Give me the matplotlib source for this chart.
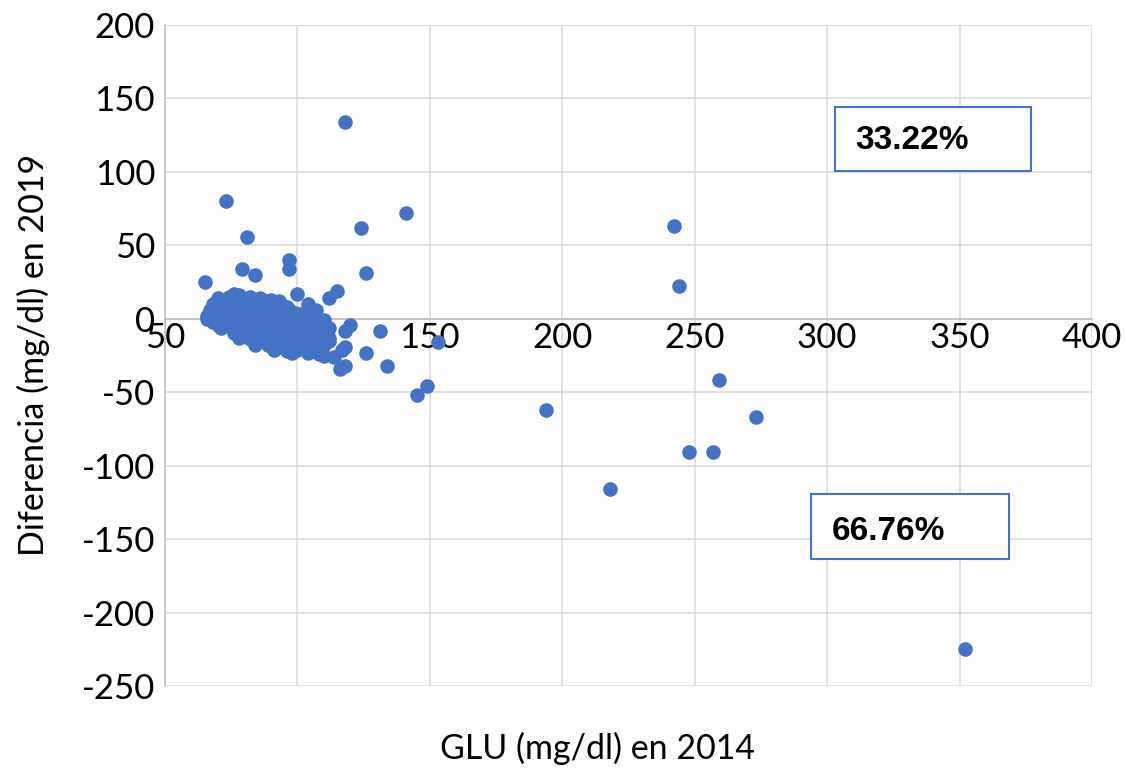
import matplotlib
matplotlib.use("Agg")
import matplotlib.pyplot as plt

# Outliers (GLU 2014, difference 2019)
out_x = [118, 73, 81, 141, 124, 126, 242, 244, 97, 97, 79, 84, 65, 115, 112, 100, 104,
         120, 118, 131, 153, 126, 134, 118, 116, 117, 145, 149, 194, 218, 248, 257, 259,
         273, 352, 66, 107, 112, 114, 118]
out_y = [134, 80, 56, 72, 62, 31, 63, 22, 40, 34, 34, 30, 25, 19, 14, 17, 10,
         -4, -8, -8, -16, -23, -32, -32, -34, -21, -52, -46, -62, -116, -91, -91, -42,
         -67, -225, 0, 6, -15, -26, -19]

# Dense cluster around 65-115 mg/dl
clu_x = [70, 74, 78, 82, 86, 90, 76, 88, 80, 93,
         68, 72, 76, 80, 84, 88, 92, 96, 70, 82, 94, 74, 86,
         67, 71, 75, 79, 83, 87, 91, 95, 99, 103, 107, 73, 85, 97, 69, 81, 93,
         66, 70, 74, 78, 82, 86, 90, 94, 98, 102, 106, 110, 77, 89, 101, 72, 84, 96,
         68, 72, 76, 80, 84, 88, 92, 96, 100, 104, 108, 112, 74, 86, 98, 70, 90, 102,
         71, 75, 79, 83, 87, 91, 95, 99, 103, 107, 111, 81, 93, 105, 77, 89, 101,
         76, 80, 84, 88, 92, 96, 100, 104, 108, 112, 86, 98, 78, 90, 106,
         82, 86, 90, 94, 98, 102, 106, 110, 92, 104, 84, 96,
         89, 93, 97, 101, 105, 109, 99, 91, 103,
         96, 100, 104, 108, 110, 98]
clu_y = [14, 15, 16, 15, 14, 13, 17, 12, 12, 12,
         10, 11, 10, 11, 10, 10, 9, 8, 8, 12, 6, 13, 12,
         6, 7, 6, 5, 7, 6, 5, 5, 4, 3, 2, 4, 4, 6, 4, 8, 8,
         2, 2, 3, 1, 2, 3, 1, 2, 1, 0, 0, -1, 4, 0, 3, 5, 5, 3,
         -2, -1, -3, -2, -3, -1, -2, -3, -4, -3, -5, -6, 0, 0, -1, -4, -1, -2,
         -6, -5, -7, -6, -7, -6, -8, -7, -8, -9, -10, -4, -5, -6, -9, -9, -10,
         -10, -11, -10, -12, -11, -12, -13, -12, -14, -13, -8, -9, -13, -14, -16,
         -14, -15, -15, -16, -15, -17, -18, -18, -13, -14, -18, -18,
         -18, -19, -20, -19, -21, -22, -17, -21, -20,
         -22, -21, -23, -24, -25, -23]

xticks = [50, 100, 150, 200, 250, 300, 350, 400]
yticks = [-250, -200, -150, -100, -50, 0, 50, 100, 150, 200]
blue = "#4472c4"

plt.rcParams['font.family'] = ['Lato', 'DejaVu Sans']
plt.rcParams['axes.unicode_minus'] = False

fig = plt.figure(figsize=(11.26, 7.70), dpi=100)
ax = fig.add_axes([0.1465, 0.1091, 0.8233, 0.8584])

ax.scatter(clu_x, clu_y, s=110, color=blue, linewidths=0, zorder=3)
ax.scatter(out_x, out_y, s=110, color=blue, linewidths=0, zorder=3)

ax.set_xlim(50, 400)
ax.set_ylim(-250, 200)
ax.set_xticks(xticks)
ax.set_yticks(yticks)
ax.grid(True, color="#d9d9d9", linewidth=1.1, zorder=0)
ax.set_axisbelow(True)

ax.spines['top'].set_visible(False)
ax.spines['right'].set_visible(False)
ax.spines['left'].set_color("#bfbfbf")
ax.spines['left'].set_linewidth(1.1)
ax.spines['bottom'].set_position(('data', 0))
ax.spines['bottom'].set_color("#bfbfbf")
ax.spines['bottom'].set_linewidth(1.1)
ax.tick_params(axis='both', length=0, labelsize=25, colors="black")
ax.tick_params(axis='x', pad=2)
ax.tick_params(axis='y', pad=7)

fig.text(598 / 1126, 1 - 748 / 770, "GLU (mg/dl) en 2014", ha='center', va='center', fontsize=24.5)
fig.text(33 / 1126, 1 - 355 / 770, "Diferencia (mg/dl) en 2019", ha='center', va='center',
         rotation=90, fontsize=24.5)

# Boxes with percentages
for (x0, y0, x1, y1), (tx, ty), label in [((302.9, 100.4, 376.9, 144.0), (310.5, 121.5), "33.22%"),
                                          ((293.9, -163.7, 368.6, -119.5), (301.8, -144.7), "66.76%")]:
    rect = plt.Rectangle((x0, y0), x1 - x0, y1 - y0, facecolor="white", edgecolor=blue,
                         linewidth=1.5, zorder=4)
    ax.add_patch(rect)
    ax.text(tx, ty, label, ha='left', va='center', fontsize=24, fontweight='bold',
            family=['Liberation Sans'], zorder=5)

fig.savefig("out.png", dpi=100)
